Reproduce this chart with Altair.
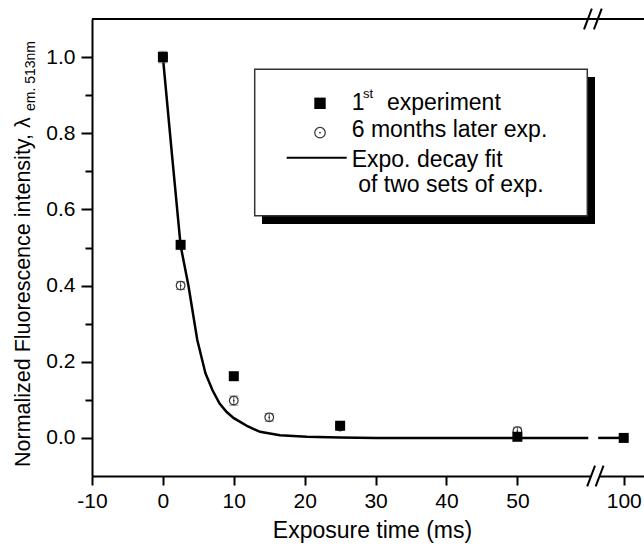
import altair as alt
import pandas as pd

# ---------------- data ----------------
exp1_x = [0, 2.5, 10, 25, 50, 100]
exp1_y = [1.0, 0.507, 0.162, 0.032, 0.003, 0.0]
exp1_err = [0.012, 0.006, 0.006, 0.005, 0.004, 0.004]

exp2_x = [0, 2.5, 10, 15, 25, 50]
exp2_y = [1.0, 0.400, 0.098, 0.054, 0.030, 0.018]
exp2_err = [0.015, 0.010, 0.012, 0.010, 0.006, 0.010]

fit_x = [0, 1.25, 2.5, 3.6, 4.85, 6, 7, 8, 9, 10, 10.9, 12, 13.7, 16.5, 20.3,
         25, 30, 40, 50, 60, 96.4, 100]
fit_y = [1.0, 0.75, 0.505, 0.40, 0.257, 0.17, 0.125, 0.09, 0.068, 0.052, 0.042,
         0.03, 0.016, 0.007, 0.003, 0.001, 0.0, 0.0, 0.0, 0.0, 0.0, 0.0]
fit_seg = [1] * 20 + [2] * 2

x_tick_values = [-10, -5, 0, 5, 10, 15, 20, 25, 30, 35, 40, 45, 50, 55, 100]
y_tick_values = [0.0, 0.1, 0.2, 0.3, 0.4, 0.5, 0.6, 0.7, 0.8, 0.9, 1.0]

# broken x axis: values beyond the break are drawn shifted left
BREAK_AT = 60
SHIFT = 35
X_DOMAIN = [-10, 67.86]
Y_DOMAIN = [-0.1, 1.1]
top_break_centers = [59.95, 61.35]
bottom_break_centers = [60.4, 61.6]

W, H = 552, 457
FONT = "Liberation Sans"


def shift(v):
    return v if v <= BREAK_AT else v - SHIFT


df1 = pd.DataFrame({"x": exp1_x, "y": exp1_y, "err": exp1_err})
df2 = pd.DataFrame({"x": exp2_x, "y": exp2_y, "err": exp2_err})
for d in (df1, df2):
    d["xt"] = d["x"].map(shift)
    d["lo"] = d["y"] - d["err"]
    d["hi"] = d["y"] + d["err"]

fit = pd.DataFrame({"x": fit_x, "y": fit_y, "seg": fit_seg})
fit["xt"] = fit["x"].map(shift)

xt_ticks = [shift(v) for v in x_tick_values]

xscale = alt.Scale(domain=X_DOMAIN, nice=False, zero=False)
yscale = alt.Scale(domain=Y_DOMAIN, nice=False, zero=False)

x_axis = alt.Axis(
    values=xt_ticks,
    labelExpr="datum.value == 65 ? '100' : (datum.value % 10 == 0 ? '' + datum.value : '')",
    tickSize={"condition": {"test": "datum.value % 10 == 0 || datum.value == 65", "value": 9}, "value": 6},
    title="Exposure time (ms)",
    titleFontSize=23,
    titlePadding=8,
    titleX=280,
    labelPadding=5,
    labelFlush=False,
)
y_axis = alt.Axis(
    values=y_tick_values,
    labelExpr="round(datum.value * 10) % 2 == 0 ? format(datum.value, '.1f') : ''",
    tickSize={"condition": {"test": "round(datum.value * 10) % 2 == 0", "value": 11}, "value": 7},
    title="",
    labelPadding=6,
)

X = lambda f: alt.X(f, scale=xscale, title="")
Y = lambda f: alt.Y(f, scale=yscale, title="")

fit_line = alt.Chart(fit).mark_line(color="black", strokeWidth=2.5).encode(
    x=alt.X("xt:Q", scale=xscale, axis=x_axis),
    y=alt.Y("y:Q", scale=yscale, axis=y_axis),
    detail="seg:N",
    order="x:Q",
)


def errbars(d, color):
    base = alt.Chart(d)
    bar = base.mark_rule(color=color, strokeWidth=1).encode(
        x=X("xt:Q"), y=Y("lo:Q"), y2="hi:Q",
    )
    cap_lo = base.mark_tick(color=color, orient="horizontal", size=9, thickness=1).encode(
        x=X("xt:Q"), y=Y("lo:Q"),
    )
    cap_hi = base.mark_tick(color=color, orient="horizontal", size=9, thickness=1).encode(
        x=X("xt:Q"), y=Y("hi:Q"),
    )
    return [bar, cap_lo, cap_hi]


circles = alt.Chart(df2).mark_point(
    shape="circle", filled=False, color="#333", strokeWidth=1.2, size=75, opacity=1
).encode(x=X("xt:Q"), y=Y("y:Q"))
circle_dots = alt.Chart(df2).mark_point(
    shape="circle", filled=True, color="#333", size=3, opacity=1
).encode(x=X("xt:Q"), y=Y("y:Q"))
squares = alt.Chart(df1).mark_square(color="black", size=100, opacity=1).encode(
    x=X("xt:Q"), y=Y("y:Q"))

# axis break marks
brk_rows, gap_rows = [], []
for yv, centers in ((Y_DOMAIN[1], top_break_centers), (Y_DOMAIN[0], bottom_break_centers)):
    gap_rows.append({"xa": centers[0], "xb": centers[1], "ya": yv})
    for c in centers:
        brk_rows.append({"xa": c - 0.55, "xb": c + 0.55, "ya": yv - 0.027, "yb": yv + 0.027})
brk = pd.DataFrame(brk_rows)
gap = pd.DataFrame(gap_rows)

gap_rule = alt.Chart(gap).mark_rule(color="white", strokeWidth=5).encode(
    x=X("xa:Q"), x2="xb:Q", y=Y("ya:Q"),
)
slashes = alt.Chart(brk).mark_rule(color="black", strokeWidth=2).encode(
    x=X("xa:Q"), x2="xb:Q", y=Y("ya:Q"), y2="yb:Q",
)

one = alt.Data(values=[{"k": 0}])

top_border = alt.Chart(one).mark_rule(color="black", strokeWidth=2).encode(
    x=alt.value(0), x2=alt.value(W), y=alt.value(0)
)

# legend box with drop shadow
shadow = alt.Chart(one).mark_rect(color="black").encode(
    x=alt.value(170), x2=alt.value(503), y=alt.value(58), y2=alt.value(205)
)
box = alt.Chart(one).mark_rect(fill="white", stroke="#333", strokeWidth=1.5).encode(
    x=alt.value(162.7), x2=alt.value(495.3), y=alt.value(50.3), y2=alt.value(196.7)
)
leg_sq = alt.Chart(one).mark_square(color="black", size=130, opacity=1).encode(
    x=alt.value(228), y=alt.value(84.3)
)
leg_circ = alt.Chart(one).mark_point(shape="circle", filled=False, color="#333",
                                     strokeWidth=1.2, size=110, opacity=1).encode(
    x=alt.value(228), y=alt.value(113.7)
)
leg_dot = alt.Chart(one).mark_point(shape="circle", filled=True, color="#333",
                                    size=3, opacity=1).encode(
    x=alt.value(228), y=alt.value(113.7)
)
leg_line = alt.Chart(one).mark_rule(color="black", strokeWidth=2).encode(
    x=alt.value(194.7), x2=alt.value(254.7), y=alt.value(138.7)
)


def txt(text, x, y, size=23, angle=0):
    kw = dict(text=text, font=FONT, fontSize=size, color="black",
              align="left", baseline="alphabetic")
    if angle:
        kw["angle"] = angle
    return alt.Chart(one).mark_text(**kw).encode(x=alt.value(x), y=alt.value(y))


legend_texts = [
    txt("1", 259.7, 91),
    txt("st", 271, 78.5, size=13),
    txt("experiment", 295, 91),
    txt("6 months later exp.", 259.7, 118.3),
    txt("Expo. decay fit", 259.7, 148.3),
    txt("of two sets of exp.", 266.3, 172.7),
]

y_title = [
    txt("Normalized Fluorescence intensity, λ", -62.5, 448, size=21.5, angle=270),
    txt("em. 513nm", -57.5, 92, size=14, angle=270),
]

layers = [fit_line] + errbars(df2, "#555") + [circles, circle_dots] + errbars(df1, "black") + [
    squares, gap_rule, slashes, top_border, shadow, box, leg_sq, leg_circ, leg_dot, leg_line
] + legend_texts + y_title

chart = alt.layer(*layers).properties(
    width=W, height=H,
    padding={"left": 92, "top": 19, "right": 0, "bottom": 70},
    autosize=alt.AutoSizeParams(type="none"),
    background="white",
).configure_view(stroke=None).configure_axis(
    domainColor="black", domainWidth=2, tickColor="black", tickWidth=2,
    labelFont=FONT, labelFontSize=21, labelColor="black",
    titleFont=FONT, titleColor="black", titleFontWeight="normal",
    grid=False,
)

chart.save("out.html", embed_options={"renderer": "svg", "actions": False})
